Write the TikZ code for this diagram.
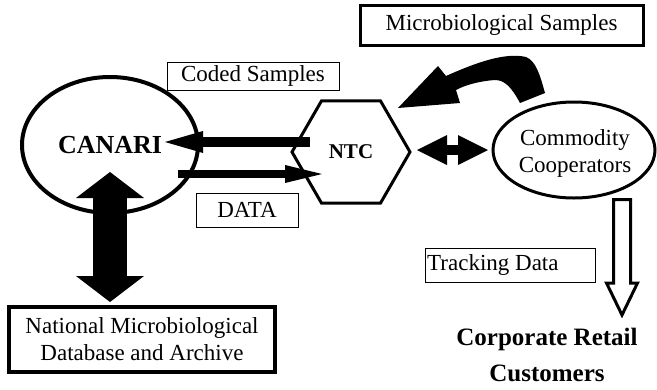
\documentclass[tikz,border=0pt]{standalone}
\usepackage{fontspec}
\setmainfont{Liberation Serif}
\usetikzlibrary{arrows.meta,shapes.geometric}
\begin{document}
\begin{tikzpicture}[x=1pt,y=-1pt,
  txt/.style={font=\fontsize{23}{27}\selectfont},
  thinbox/.style={draw, line width=1pt, inner sep=0pt, txt},
  thickbox/.style={draw, line width=3pt, inner sep=0pt, txt},
  oval/.style={ellipse, draw, inner sep=0pt},
  bold/.style={font=\fontsize{#1}{#1}\selectfont\bfseries}]
\useasboundingbox (0,0) rectangle (657,389);
\fill[white] (0,0) rectangle (657,389);

% main nodes
\node[oval, line width=4pt, minimum width=176pt, minimum height=136pt, bold=26] (canari) at (110,145) {CANARI};
\node[regular polygon, regular polygon sides=6, minimum size=118pt, draw, line width=3pt, inner sep=0pt, bold=21] (ntc) at (351,152) {NTC};
\node[oval, line width=3pt, minimum width=162pt, minimum height=96pt, txt, align=center] (comm) at (574,150) {};
\node[txt, align=center] (commtxt) at (575,153) {Commodity\\Cooperators};
\node[thickbox, line width=3.5pt, minimum width=266pt, minimum height=65pt, align=center] (natdb) at (142,339.5) {National Microbiological\\Database and Archive};
\node[font=\fontsize{25}{36}\selectfont\bfseries, align=center] (crc) at (547,355) {Corporate Retail\\Customers};

% label boxes
\node[thinbox, minimum width=172pt, minimum height=28pt] (coded) at (253,76) {Coded Samples};
\node[thinbox, minimum width=102pt, minimum height=34pt] (data) at (247,210) {DATA};
\node[thinbox, minimum width=170pt, minimum height=34pt] (track) at (510,265) {};
\node[txt, anchor=west, inner sep=0pt] (tracktxt) at ([xshift=2.5pt]track.west) {Tracking Data};
\node[thickbox, minimum width=283pt, minimum height=40pt] (micro) at (501.5,25) {Microbiological Samples};

% arrow end points
\coordinate (a1s) at (310,142); \coordinate (a1e) at (165,142);
\coordinate (a2s) at (178,174); \coordinate (a2e) at (322,174);
\coordinate (a3s) at (417,150); \coordinate (a3e) at (488,150);
\coordinate (v1) at (110,172);  \coordinate (v2) at (110,302);

\draw[line width=10pt, -{Triangle[length=38pt,width=22pt,line width=0pt]}] (a1s) -- (a1e);
\draw[line width=8.5pt, -{Triangle[length=37pt,width=18pt,line width=0pt]}] (a2s) -- (a2e);
\draw[line width=10pt, {Triangle[length=30pt,width=30pt,line width=0pt]}-{Triangle[length=30pt,width=30pt,line width=0pt]}] (a3s) -- (a3e);
\draw[line width=34pt, {Triangle[length=26pt,width=68pt,line width=0pt]}-{Triangle[length=26pt,width=68pt,line width=0pt]}] (v1) -- (v2);

% curved block arrow (commodity -> NTC)
\fill (398,108) -- (438,66) -- (446,76)
  .. controls (475,63) and (505,52) .. (526,57)
  .. controls (536,61) and (540,75) .. (545,93)
  -- (520,103)
  .. controls (512,88) and (505,80) .. (495,80)
  .. controls (480,81) and (465,85) .. (456,90)
  -- (460,103) -- cycle;

% hollow arrow (commodity -> corporate retail)
\draw[line width=3pt, fill=white, line join=miter]
  (613.5,199.5) -- (613.5,283) -- (606.5,283) -- (622,315) -- (637.5,283)
  -- (630.5,283) -- (630.5,199.5) -- cycle;
\end{tikzpicture}
\end{document}
